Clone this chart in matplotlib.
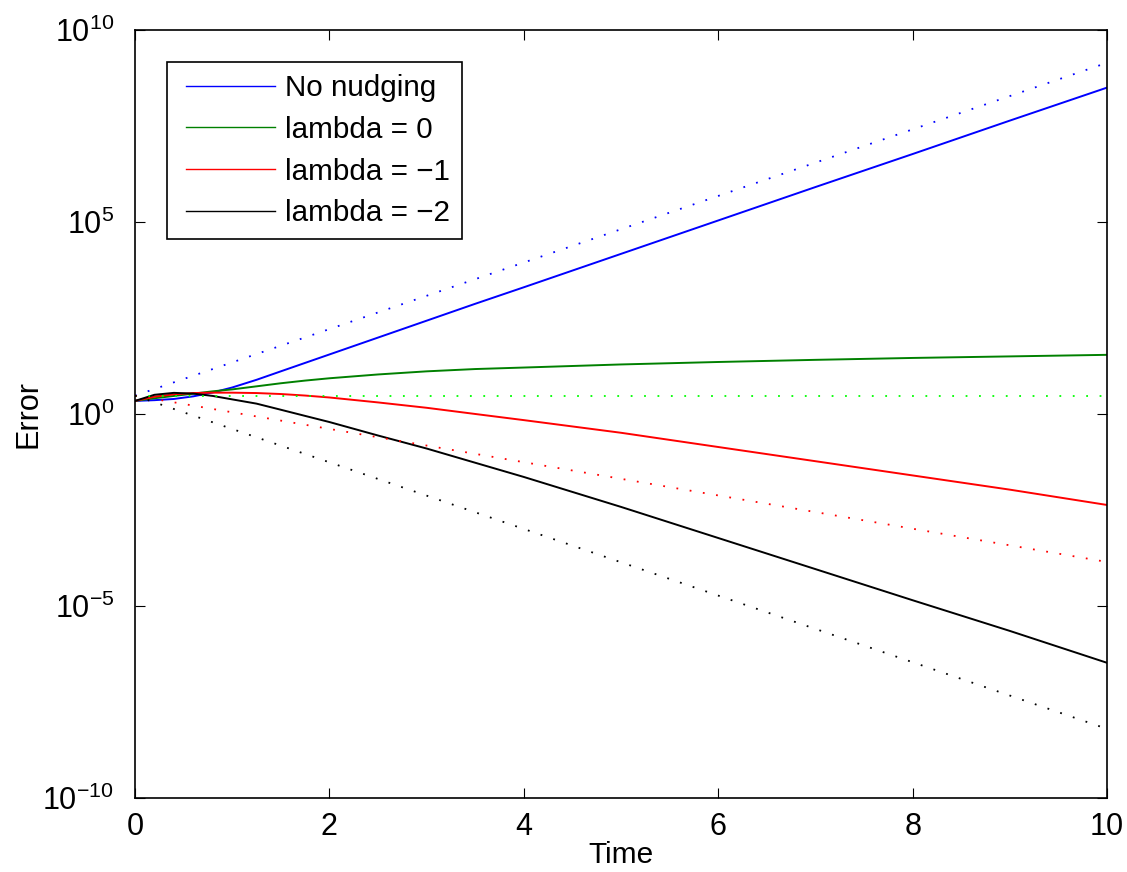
import matplotlib
matplotlib.use("Agg")

import matplotlib.pyplot as plt
from matplotlib.lines import Line2D
from matplotlib.legend_handler import HandlerLine2D

# -------------------------------------------------
# DATA
# -------------------------------------------------

time = [0, 0.2, 0.4, 0.6, 0.8, 1.0, 1.25, 1.5, 1.75, 2,
        2.5, 3, 3.5, 4, 5, 6, 7, 8, 9, 10]

err_no_nudging = [2.19, 2.29, 2.46, 2.88, 3.63, 4.90, 7.76, 12.9, 21.4, 35.5,
                  97.7, 269, 741, 1995, 1.479e4, 1.096e5, 8.13e5, 5.89e6,
                  4.37e7, 3.16e8]
err_lambda_0 = [2.19, 2.57, 2.95, 3.39, 3.89, 4.37, 5.25, 6.31, 7.41, 8.51,
                10.7, 12.9, 14.8, 16.2, 19.5, 22.6, 25.7, 28.8, 31.6, 34.7]
err_lambda_m1 = [2.19, 2.82, 3.24, 3.51, 3.59, 3.59, 3.51, 3.31, 3.02, 2.69,
                 2.00, 1.45, 1.00, 0.692, 0.324, 0.138, 0.0589, 0.0251,
                 0.0107, 0.00427]
err_lambda_m2 = [2.19, 3.16, 3.55, 3.39, 2.95, 2.40, 1.86, 1.29, 0.891, 0.617,
                 0.275, 0.126, 0.0537, 0.0229, 3.8e-3, 5.89e-4, 9.12e-5,
                 1.41e-5, 2.24e-6, 3.31e-7]

# dotted reference rates (straight lines on the log axis)
bound_time = [0, 10]
bound_no_nudging = [3.0, 1.4e9]
bound_lambda_0 = [3.0, 3.0]
bound_lambda_m1 = [3.0, 1.4e-4]
bound_lambda_m2 = [3.0, 6.3e-9]

labels = ["No nudging", "lambda = 0", "lambda = \u22121", "lambda = \u22122"]
xticks = [0, 2, 4, 6, 8, 10]
yticks = [1e-10, 1e-5, 1e0, 1e5, 1e10]
ytick_labels = [r"$10^{-10}$", r"$10^{-5}$", r"$10^{0}$", r"$10^{5}$", r"$10^{10}$"]

# -------------------------------------------------
# STYLE
# -------------------------------------------------

plt.rcParams["font.family"] = ["Liberation Sans", "DejaVu Sans"]
plt.rcParams["mathtext.fontset"] = "custom"
plt.rcParams["mathtext.rm"] = "Liberation Sans"
plt.rcParams["mathtext.it"] = "Liberation Sans"
plt.rcParams["mathtext.bf"] = "Liberation Sans"
plt.rcParams["font.size"] = 22

solid_colors = ["#0000ff", "#008000", "#ff0000", "#000000"]
dot_colors = ["#0000ff", "#00ff00", "#ff0000", "#000000"]

# -------------------------------------------------
# PLOT
# -------------------------------------------------

fig = plt.figure(figsize=(11.27, 8.72), dpi=100)
ax = fig.add_axes([0.1198, 0.0849, 0.8625, 0.8807])

solid = [err_no_nudging, err_lambda_0, err_lambda_m1, err_lambda_m2]
bounds = [bound_no_nudging, bound_lambda_0, bound_lambda_m1, bound_lambda_m2]

for vals, col, lab in zip(solid, solid_colors, labels):
    ax.plot(time, vals, color=col, linewidth=1.4, label=lab)

for vals, col in zip(bounds, dot_colors):
    ax.plot(bound_time, vals, color=col, linewidth=1.3,
            linestyle=(0, (1, 6.42)), dash_capstyle="butt")

ax.set_yscale("log")
ax.set_xlim(0, 10)
ax.set_ylim(1e-10, 1e10)
ax.set_xticks(xticks)
ax.set_xticklabels([str(x) for x in xticks])
ax.set_yticks(yticks)
ax.set_yticklabels(ytick_labels)
ax.minorticks_off()

ax.tick_params(direction="in", length=7, width=0.8, top=True, right=True,
               labelsize=22)
ax.tick_params(axis="x", pad=10)
ax.tick_params(axis="y", pad=15)
for sp in ax.spines.values():
    sp.set_linewidth(1.2)

ax.set_xlabel("Time", fontsize=21.5)
ax.set_ylabel("Error", fontsize=22)
ax.xaxis.set_label_coords(0.5, -0.0555)
ax.yaxis.set_label_coords(-0.094, 0.5)

leg = ax.legend(loc="upper left", bbox_to_anchor=(0.033, 0.958),
                borderaxespad=0, fancybox=False, framealpha=1,
                edgecolor="black", handlelength=3.25, handletextpad=0.35,
                labelspacing=0.465, borderpad=0.4, fontsize=21.3,
                handler_map={Line2D: HandlerLine2D(xpad=0.23)})
leg.get_frame().set_linewidth(1.2)
for h in leg.get_lines():
    h.set_linewidth(1.0)

fig.savefig("out.png", dpi=100)
plt.close(fig)
